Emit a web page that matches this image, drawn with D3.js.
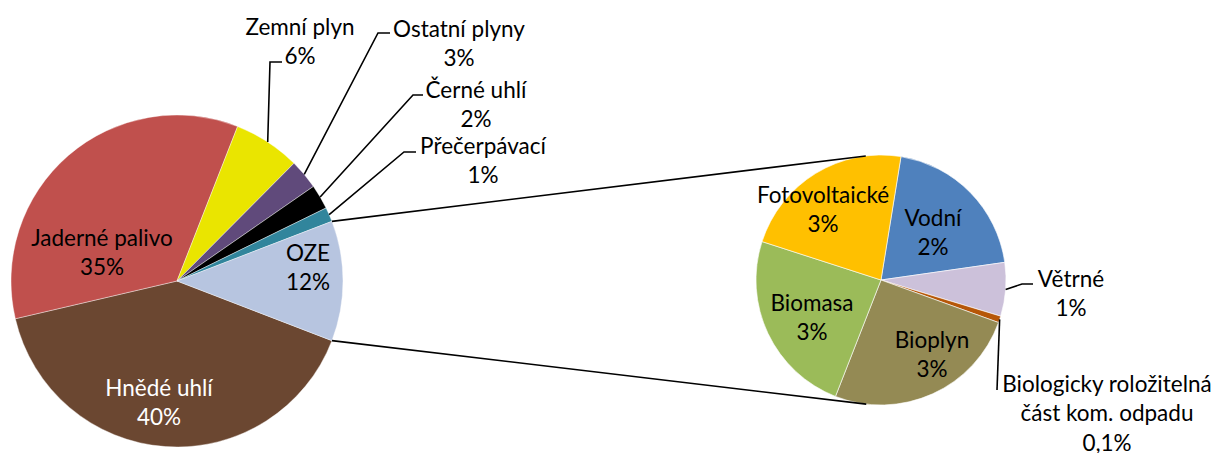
<!DOCTYPE html>
<html>
<head>
<meta charset="utf-8">
<script src="https://cdn.jsdelivr.net/npm/d3@7"></script>
<style>
  body { margin: 0; background: #fff; }
  .lbl { font-family: Lato, "Liberation Sans", sans-serif; font-size: 22.5px; }
  .leader { fill: none; stroke: #000; stroke-width: 1.6; }
</style>
</head>
<body>
<div id="chart"></div>
<script>
// main pie (share of total, %)
var mainNames = ["Hnědé uhlí", "Jaderné palivo", "Zemní plyn", "Ostatní plyny", "Černé uhlí", "Přečerpávací", "OZE"];
var mainValues = [40.5, 34.6, 6.5, 2.9, 2.4, 1.4, 11.7];
var mainPct = ["40%", "35%", "6%", "3%", "2%", "1%", "12%"];
var mainColors = ["#6B4731", "#C0504D", "#EAE500", "#604A7B", "#000000", "#31859C", "#B7C5E0"];

// secondary pie = OZE breakdown (share of total, %)
var subNames = ["Vodní", "Větrné", "Biologicky roložitelná|část kom. odpadu", "Bioplyn", "Biomasa", "Fotovoltaické"];
var subValues = [2.36, 0.81, 0.1, 2.97, 2.81, 2.64];
var subPct = ["2%", "1%", "0,1%", "3%", "3%", "3%"];
var subColors = ["#4F81BD", "#CCC1DA", "#B65708", "#948A54", "#9BBB59", "#FFC000"];

var width = 1212, height = 453;
var main = {cx: 177, cy: 281, r: 166};
var sub = {cx: 881, cy: 280, r: 125};

var svg = d3.select("#chart").append("svg")
    .attr("width", width)
    .attr("height", height);

var rad = Math.PI / 180;
var total = d3.sum(mainValues);
var ozeAngle = mainValues[6] / total * 2 * Math.PI;
var mainStart = Math.PI / 2 + ozeAngle / 2;
var subStart = 9.2 * rad;

var pieMain = d3.pie().sort(null).startAngle(mainStart).endAngle(mainStart + 2 * Math.PI);
var pieSub = d3.pie().sort(null).startAngle(subStart).endAngle(subStart + 2 * Math.PI);

var arcsMain = pieMain(mainValues);
var arcsSub = pieSub(subValues);

var arcMain = d3.arc().innerRadius(0).outerRadius(main.r);
var arcSub = d3.arc().innerRadius(0).outerRadius(sub.r);

// point on circle, d3 angle convention (0 = top, clockwise)
function polar(c, a, r) {
    return [c.cx + r * Math.sin(a), c.cy - r * Math.cos(a)];
}

// tangent point from P to circle c; side = -1 upper, +1 lower
function tangent(p, c, side) {
    var dx = p[0] - c.cx, dy = p[1] - c.cy;
    var d = Math.sqrt(dx * dx + dy * dy);
    var th = Math.atan2(dy, dx);
    var al = Math.acos(c.r / d);
    var t1 = [c.cx + c.r * Math.cos(th + al), c.cy + c.r * Math.sin(th + al)];
    var t2 = [c.cx + c.r * Math.cos(th - al), c.cy + c.r * Math.sin(th - al)];
    if (side < 0) return t1[1] < t2[1] ? t1 : t2;
    return t1[1] > t2[1] ? t1 : t2;
}

var gMain = svg.append("g").attr("transform", "translate(" + main.cx + "," + main.cy + ")");
gMain.selectAll("path").data(arcsMain).enter().append("path")
    .attr("d", arcMain)
    .attr("fill", function (d, i) { return mainColors[i]; })
    .attr("stroke", "#fff")
    .attr("stroke-width", 0.4);

var gSub = svg.append("g").attr("transform", "translate(" + sub.cx + "," + sub.cy + ")");
gSub.selectAll("path").data(arcsSub).enter().append("path")
    .attr("d", arcSub)
    .attr("fill", function (d, i) { return subColors[i]; })
    .attr("stroke", "#fff")
    .attr("stroke-width", 0.6);

// connector lines from OZE slice to secondary pie
var oze = arcsMain[6];
var pTop = polar(main, oze.startAngle, main.r);
var pBot = polar(main, oze.endAngle, main.r);
var tTop = tangent(pTop, sub, -1);
var tBot = tangent(pBot, sub, 1);
svg.append("line").attr("class", "leader")
    .attr("x1", pTop[0]).attr("y1", pTop[1]).attr("x2", tTop[0]).attr("y2", tTop[1]);
svg.append("line").attr("class", "leader")
    .attr("x1", pBot[0]).attr("y1", pBot[1]).attr("x2", tBot[0]).attr("y2", tBot[1]);

// label placement: centre x, y of first line, leader elbow points
var mainLayout = [
    {x: 159, y: 388, fill: "#fff"},
    {x: 102, y: 238},
    {x: 300, y: 27, elbow: [[270, 62], [282, 62]]},
    {x: 459, y: 29, elbow: [[378, 33], [390, 33]]},
    {x: 476, y: 90, elbow: [[413, 95], [423, 95]]},
    {x: 483, y: 146, elbow: [[404, 152], [416, 152]]},
    {x: 308, y: 253}
];
var subLayout = [
    {x: 933, y: 218},
    {x: 1071, y: 279, elbow: [[1022, 284], [1033, 284]]},
    {x: 1107, y: 384, elbow: [[997, 390]]},
    {x: 932, y: 340},
    {x: 812, y: 303},
    {x: 823, y: 195}
];

var lineStep = 29.5;

function drawLabels(arcs, names, pcts, layout, c) {
    arcs.forEach(function (d, i) {
        var L = layout[i];
        if (L.elbow) {
            var mid = (d.startAngle + d.endAngle) / 2;
            var pts = [polar(c, mid, c.r)].concat(L.elbow);
            svg.append("path").attr("class", "leader")
                .attr("d", d3.line()(pts));
        }
        var lines = names[i].split("|").concat([pcts[i]]);
        var t = svg.append("text").attr("class", "lbl")
            .attr("text-anchor", "middle")
            .attr("fill", L.fill || "#000");
        lines.forEach(function (s, k) {
            t.append("tspan")
                .attr("x", L.x)
                .attr("y", L.y + k * lineStep)
                .attr("dy", "0.35em")
                .text(s);
        });
    });
}

drawLabels(arcsMain, mainNames, mainPct, mainLayout, main);
drawLabels(arcsSub, subNames, subPct, subLayout, sub);
</script>
</body>
</html>
